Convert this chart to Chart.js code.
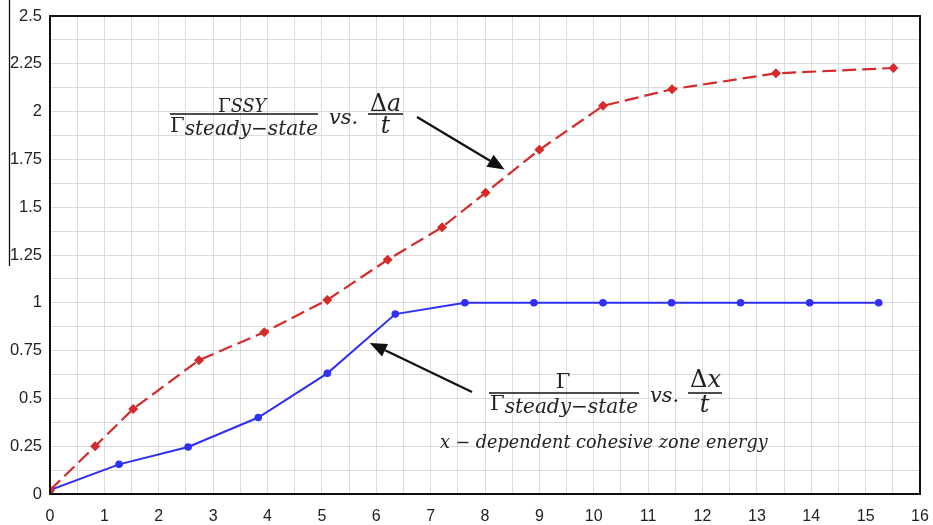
<!DOCTYPE html>
<html>
<head>
<meta charset="utf-8">
<script src="https://cdn.jsdelivr.net/npm/chart.js@4.4.1/dist/chart.umd.min.js"></script>
<style>
  html, body { margin: 0; padding: 0; background: #ffffff; }
  #wrap { width: 933px; height: 525px; position: relative; }
</style>
</head>
<body>
<div id="wrap"><canvas id="chart" width="933" height="525"></canvas></div>
<script>
// Normalised fracture energy against normalised crack extension
const ssyX = [0, 0.83, 1.53, 2.74, 3.94, 5.10, 6.21, 7.21, 8.01, 9.0, 10.17, 11.44, 13.35, 15.51];
const ssyY = [0.02, 0.25, 0.445, 0.70, 0.846, 1.015, 1.225, 1.395, 1.576, 1.80, 2.03, 2.117, 2.20, 2.228];

const czX = [0, 1.27, 2.54, 3.83, 5.10, 6.35, 7.63, 8.90, 10.17, 11.43, 12.70, 13.97, 15.24];
const czY = [0.02, 0.155, 0.246, 0.40, 0.631, 0.941, 1, 1, 1, 1, 1, 1, 1];

const xMin = 0, xMax = 16, xGridStep = 0.5;
const yMin = 0, yMax = 2.5, yGridStep = 0.125;

const toPoints = (xs, ys) => xs.map((x, i) => ({ x: x, y: ys[i] }));

const TXT = '#222222';
const MATH = '"DejaVu Serif", "Liberation Serif", serif';

function arrow(ctx, x1, y1, x2, y2) {
  const ang = Math.atan2(y2 - y1, x2 - x1);
  const hl = 17, hw = 7;
  const bx = x2 - hl * Math.cos(ang), by = y2 - hl * Math.sin(ang);
  ctx.save();
  ctx.strokeStyle = '#111'; ctx.fillStyle = '#111'; ctx.lineWidth = 2.2;
  ctx.beginPath(); ctx.moveTo(x1, y1); ctx.lineTo(bx, by); ctx.stroke();
  ctx.beginPath();
  ctx.moveTo(x2, y2);
  ctx.lineTo(bx + hw * Math.sin(ang), by - hw * Math.cos(ang));
  ctx.lineTo(bx - hw * Math.sin(ang), by + hw * Math.cos(ang));
  ctx.closePath(); ctx.fill();
  ctx.restore();
}

// pieces: [text, italic?, relative size, baseline shift]; scale k gives pixel sizes
function runWidth(ctx, pieces, k) {
  let w = 0;
  pieces.forEach(p => {
    ctx.font = (p[1] ? 'italic ' : '') + (p[2] * k) + 'px ' + MATH;
    w += ctx.measureText(p[0]).width;
  });
  return w;
}
function drawRun(ctx, pieces, k, x, y) {
  let w = 0;
  pieces.forEach(p => {
    ctx.font = (p[1] ? 'italic ' : '') + (p[2] * k) + 'px ' + MATH;
    ctx.fillText(p[0], x + w, y - (p[3] || 0));
    w += ctx.measureText(p[0]).width;
  });
}
function fitRun(ctx, pieces, left, right, y) {
  const k = (right - left) / runWidth(ctx, pieces, 1);
  drawRun(ctx, pieces, k, left, y);
  return k;
}
function centredRun(ctx, pieces, k, cx, y) {
  const w = runWidth(ctx, pieces, k);
  drawRun(ctx, pieces, k, cx - w / 2, y);
}
function bar(ctx, left, right, y) {
  ctx.fillRect(left, y - 0.8, right - left, 1.6);
}

const overlay = {
  id: 'overlay',
  afterDraw(chart) {
    const ctx = chart.ctx;
    const a = chart.chartArea;
    const xs = chart.scales.x, ys = chart.scales.y;
    ctx.save();
    // frame round the plot area
    ctx.strokeStyle = '#111';
    ctx.lineWidth = 2;
    ctx.strokeRect(a.left, a.top, a.right - a.left, a.bottom - a.top);
    // thin rule at the far left
    ctx.lineWidth = 1.3;
    ctx.beginPath(); ctx.moveTo(9.5, 0); ctx.lineTo(9.5, 266); ctx.stroke();

    ctx.fillStyle = TXT;
    ctx.textBaseline = 'alphabetic';
    ctx.textAlign = 'left';

    const den = [['Γ', false, 1.05, 3], ['steady−state', true, 1]];

    // upper label: Γ_SSY / Γ_steady-state vs. Δa / t
    const k = fitRun(ctx, den, 170, 318, 135);
    fitRun(ctx, [['Γ', false, 1.05], ['SSY', true, 1]], 218, 266, 112);
    bar(ctx, 170, 318, 114);
    fitRun(ctx, [['vs.', true, 1]], 329, 358, 124);
    const kd = fitRun(ctx, [['Δ', false, 1], ['a', true, 1]], 370, 401, 111);
    centredRun(ctx, [['t', true, 1]], kd, 385.5, 133);
    bar(ctx, 368, 403, 114);
    arrow(ctx, 417, 117, xs.getPixelForValue(8.36), ys.getPixelForValue(1.697));

    // lower label: Γ / Γ_steady-state vs. Δx / t
    fitRun(ctx, den, 490, 638, 413);
    centredRun(ctx, [['Γ', false, 1.05]], k, 563, 388);
    bar(ctx, 489, 639, 393);
    fitRun(ctx, [['vs.', true, 1]], 650, 679, 402);
    const kx = fitRun(ctx, [['Δ', false, 1], ['x', true, 1]], 690, 721, 387);
    centredRun(ctx, [['t', true, 1]], kx, 704.5, 412);
    bar(ctx, 688, 722, 393);
    fitRun(ctx, [['x − dependent cohesive zone energy', true, 1]], 440, 768, 448);
    arrow(ctx, 472, 392, xs.getPixelForValue(5.88), ys.getPixelForValue(0.79));
    ctx.restore();
  }
};

new Chart(document.getElementById('chart'), {
  type: 'line',
  data: {
    datasets: [
      {
        label: 'SSY',
        data: toPoints(ssyX, ssyY),
        borderColor: '#d42a2a',
        backgroundColor: '#d42a2a',
        borderWidth: 2.2,
        borderDash: [14, 6],
        pointStyle: 'rectRot',
        pointRadius: 5,
        pointBorderWidth: 0,
        tension: 0
      },
      {
        label: 'cohesive',
        data: toPoints(czX, czY),
        borderColor: '#2f2ff5',
        backgroundColor: '#2f2ff5',
        borderWidth: 2,
        pointStyle: 'circle',
        pointRadius: 3.8,
        pointBorderWidth: 0,
        tension: 0
      }
    ]
  },
  options: {
    responsive: false,
    animation: false,
    devicePixelRatio: 1,
    layout: { padding: { top: 16, right: 13, left: 0, bottom: 0 } },
    plugins: { legend: { display: false }, tooltip: { enabled: false } },
    scales: {
      x: {
        type: 'linear',
        min: xMin, max: xMax,
        afterFit(s) { s.height = 31; s.paddingLeft = 0; s.paddingRight = 0; },
        grid: { color: '#dcdcdc', lineWidth: 1, drawTicks: false },
        border: { display: false },
        ticks: {
          stepSize: xGridStep,
          autoSkip: false,
          maxRotation: 0,
          padding: 13,
          color: '#222',
          font: { family: '"Liberation Sans", Arial, sans-serif', size: 16 },
          callback: v => Math.abs(v - Math.round(v)) < 1e-6 ? String(Math.round(v)) : ''
        }
      },
      y: {
        type: 'linear',
        min: yMin, max: yMax,
        afterFit(s) { s.width = 50; s.paddingTop = 0; s.paddingBottom = 0; },
        grid: { color: '#dcdcdc', lineWidth: 1, drawTicks: false },
        border: { display: false },
        ticks: {
          stepSize: yGridStep,
          autoSkip: false,
          padding: 8,
          color: '#222',
          font: { family: '"Liberation Sans", Arial, sans-serif', size: 16.5 },
          callback: v => Math.abs(v * 4 - Math.round(v * 4)) < 1e-6 ? String(+(Math.round(v * 4) / 4).toFixed(2)) : ''
        }
      }
    }
  },
  plugins: [overlay]
});
</script>
</body>
</html>
